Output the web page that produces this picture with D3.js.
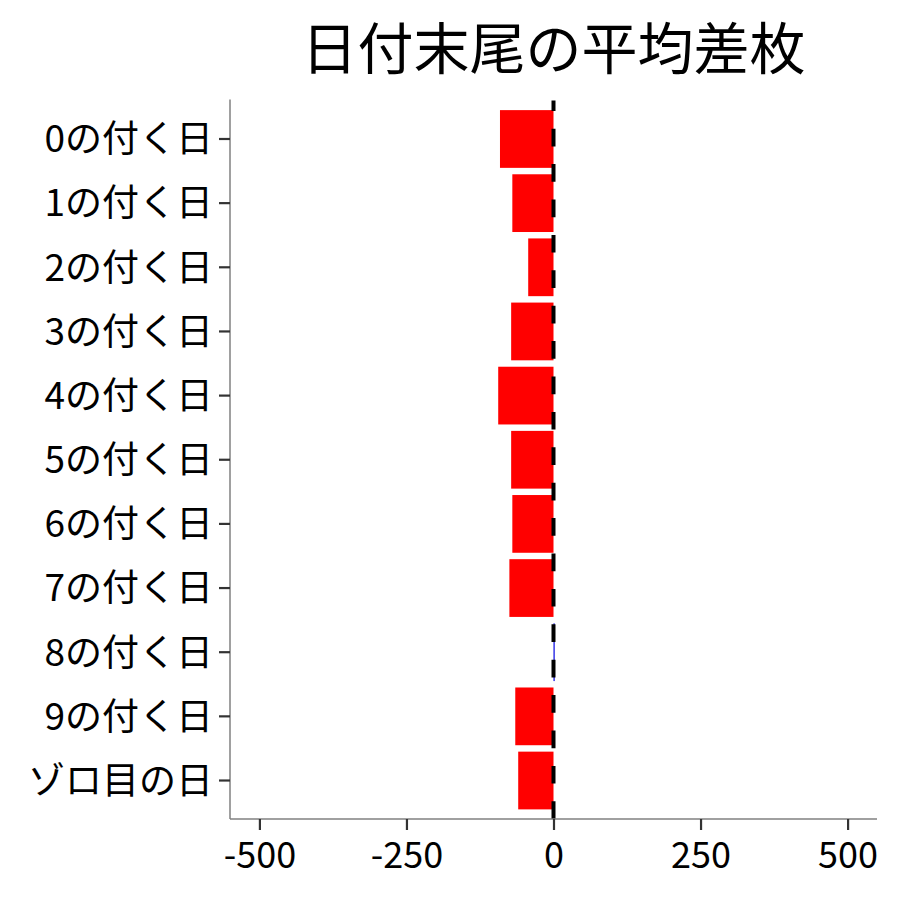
<!DOCTYPE html>
<html>
<head>
<meta charset="utf-8">
<script src="https://cdn.jsdelivr.net/npm/d3@7"></script>
<style>
  html, body { margin: 0; padding: 0; background: #fff; }
  svg { display: block; font-family: "Noto Sans CJK JP", "Noto Sans", sans-serif; }
</style>
</head>
<body>
<svg id="chart" width="900" height="900"></svg>
<script>
const categories = ["0の付く日","1の付く日","2の付く日","3の付く日","4の付く日","5の付く日","6の付く日","7の付く日","8の付く日","9の付く日","ゾロ目の日"];
const values = [-91, -70, -43, -72, -94, -72, -70, -75, 2, -65, -60];
const xTicks = [-500, -250, 0, 250, 500];
const xDomain = [-550, 550];
const title = "日付末尾の平均差枚";

const svg = d3.select("#chart");
const pLeft = 230, pRight = 877, pTop = 100.5, pBottom = 819;

const x = d3.scaleLinear().domain(xDomain).range([pLeft, pRight]);
const y = d3.scaleBand().domain(categories).range([pTop, pBottom]).paddingInner(0.1).paddingOuter(0.15);

const data = categories.map((c, i) => ({ cat: c, v: values[i] }));

// bars
svg.append("g").selectAll("rect").data(data).join("rect")
  .attr("x", d => x(Math.min(0, d.v)))
  .attr("width", d => Math.abs(x(d.v) - x(0)))
  .attr("y", d => y(d.cat))
  .attr("height", y.bandwidth())
  .attr("fill", d => d.v < 0 ? "#FF0000" : "#0000E0");

// dashed zero line (drawn bottom to top)
svg.append("line")
  .attr("x1", x(0)).attr("x2", x(0))
  .attr("y1", pBottom).attr("y2", pTop)
  .attr("stroke", "#000").attr("stroke-width", 4)
  .attr("stroke-dasharray", "17.7,17.7");

// axes
const xAxis = d3.axisBottom(x).tickValues(xTicks).tickFormat(d => String(d))
  .tickSize(11).tickSizeOuter(0).tickPadding(6);
const gx = svg.append("g").attr("transform", `translate(0,${pBottom})`).call(xAxis);
gx.select(".domain").attr("stroke", "#808080").attr("stroke-width", 1.5)
  .attr("d", `M${pLeft},0H${pRight}`);
gx.selectAll(".tick line").attr("stroke", "#333").attr("stroke-width", 2.2);
gx.selectAll(".tick text").attr("font-size", 36).attr("fill", "#000")
  .attr("font-family", "Noto Sans CJK JP").attr("dy", null).attr("y", 49);

const yAxis = d3.axisLeft(y).tickSize(11).tickSizeOuter(0).tickPadding(6);
const gy = svg.append("g").attr("transform", `translate(${pLeft},0)`).call(yAxis);
gy.select(".domain").attr("stroke", "#808080").attr("stroke-width", 1.5)
  .attr("d", `M0,${pTop - 1}V${pBottom}`);
gy.selectAll(".tick line").attr("stroke", "#333").attr("stroke-width", 2.2);
gy.selectAll(".tick text").attr("font-size", 37).attr("fill", "#000")
  .attr("font-family", "Noto Sans CJK JP").attr("dy", "0.36em");

// title
svg.append("text")
  .attr("x", (pLeft + pRight) / 2).attr("y", 69)
  .attr("text-anchor", "middle")
  .attr("font-size", 56)
  .attr("font-family", "Noto Sans CJK JP")
  .attr("fill", "#000")
  .text(title);
</script>
</body>
</html>
